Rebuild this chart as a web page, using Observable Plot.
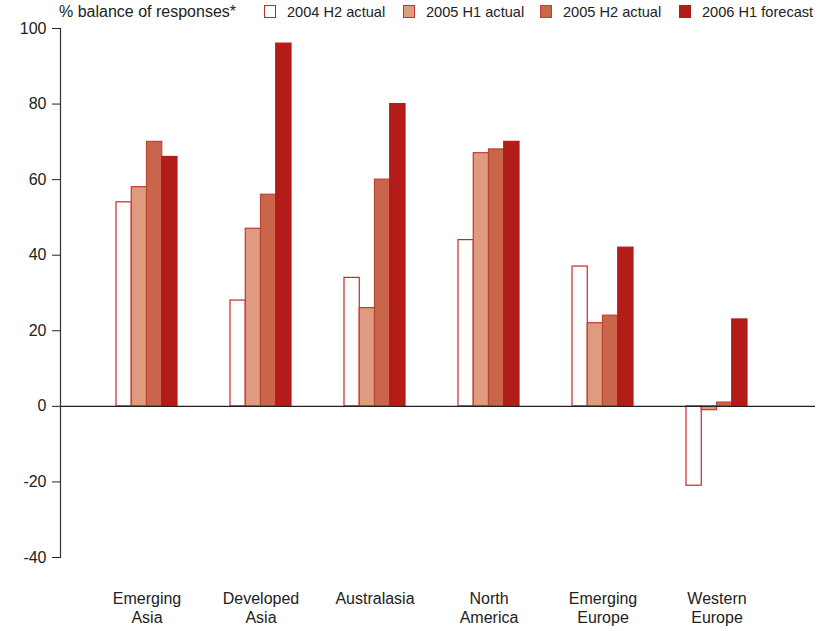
<!DOCTYPE html>
<html>
<head>
<meta charset="utf-8">
<script src="https://cdn.jsdelivr.net/npm/d3@7"></script>
<script src="https://cdn.jsdelivr.net/npm/@observablehq/plot@0.6"></script>
<style>
  body { margin: 0; background: #fff; font-family: "Liberation Sans", Arial, sans-serif; color: #222; }
  #head { position: relative; width: 835px; height: 20px; }
  #head .sub { position: absolute; left: 59px; top: 3px; font-size: 16px; }
  #head .item { position: absolute; top: 4px; font-size: 14.6px; white-space: nowrap; }
  #head .sw { position: absolute; left: 0; top: 1px; width: 12px; height: 13px; box-sizing: border-box; border: 1.2px solid; }
  #head .lab { position: absolute; left: 23px; top: 0; }
</style>
</head>
<body>
<div id="head"><span class="sub">% balance of responses*</span></div>
<div id="chart"></div>
<script>
// Regions along the x axis
const regions = ["Emerging\nAsia", "Developed\nAsia", "Australasia", "North\nAmerica", "Emerging\nEurope", "Western\nEurope"];

// Survey periods (one bar per region each)
const seriesNames = ["2004 H2 actual", "2005 H1 actual", "2005 H2 actual", "2006 H1 forecast"];

// % balance of responses, per region
const h2_2004 = [54, 28, 34, 44, 37, -21];
const h1_2005 = [58, 47, 26, 67, 22, -1];
const h2_2005 = [70, 56, 60, 68, 24, 1];
const h1_2006 = [66, 96, 80, 70, 42, 23];

const yTicks = [-40, -20, 0, 20, 40, 60, 80, 100];

const fills = ["#ffffff", "#df9b80", "#c8654a", "#b31c18"];
const strokes = ["#c9262b", "#c8352d", "#bb4431", "#b31c18"];
const legendLeft = [264, 403, 540, 679];

const seriesValues = [h2_2004, h1_2005, h2_2005, h1_2006];

// Legend row
const head = document.getElementById("head");
seriesNames.forEach((name, i) => {
  const item = document.createElement("span");
  item.className = "item";
  item.style.left = legendLeft[i] + "px";
  const sw = document.createElement("span");
  sw.className = "sw";
  sw.style.background = fills[i];
  sw.style.borderColor = strokes[i];
  const lab = document.createElement("span");
  lab.className = "lab";
  lab.textContent = name;
  item.append(sw, lab);
  head.append(item);
});

// Band layout for the region groups
const width = 835, marginLeft = 60, marginRight = 20;
const xOpts = {paddingInner: 0.468, paddingOuter: 0.528, align: 0.45};
const band = d3.scaleBand().domain(regions).range([marginLeft, width - marginRight])
  .paddingInner(xOpts.paddingInner).paddingOuter(xOpts.paddingOuter).align(xOpts.align);
const sub = band.bandwidth() / seriesNames.length;

const barMarks = seriesNames.map((name, i) =>
  Plot.barY(regions.map((r, j) => ({region: r, value: seriesValues[i][j]})), {
    x: "region",
    y: "value",
    fill: fills[i],
    stroke: strokes[i],
    strokeWidth: 1.2,
    insetLeft: i * sub,
    insetRight: (seriesNames.length - 1 - i) * sub
  })
);

const chart = Plot.plot({
  width,
  height: 611,
  marginLeft,
  marginRight,
  marginTop: 8,
  marginBottom: 74,
  style: {fontFamily: "'Liberation Sans', Arial, sans-serif", fontSize: "16px", color: "#222", background: "#fff"},
  x: {domain: regions, ...xOpts},
  y: {domain: [-40, 100]},
  marks: [
    ...barMarks,
    Plot.ruleY([0], {stroke: "#222", strokeWidth: 1.2}),
    Plot.axisY({ticks: yTicks, tickSize: 8, tickPadding: 6, tickFormat: (d) => String(d), label: null}),
    Plot.frame({anchor: "left", stroke: "#333", strokeWidth: 1.2}),
    Plot.axisX({tickSize: 0, tickPadding: 33, lineHeight: 1.2, label: null})
  ]
});
document.getElementById("chart").append(chart);
</script>
</body>
</html>
